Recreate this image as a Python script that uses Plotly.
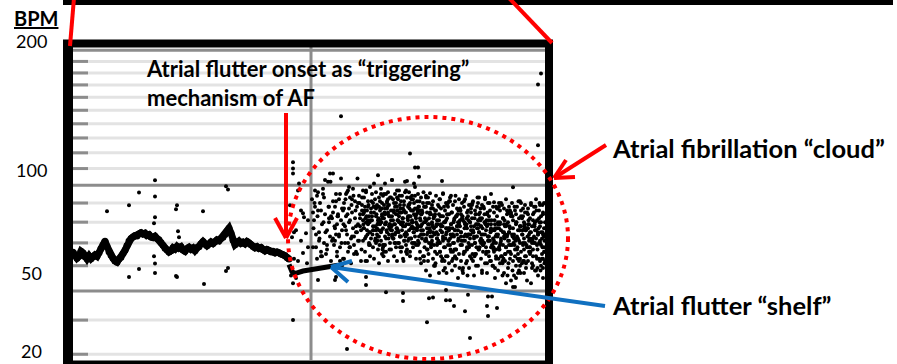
import plotly.graph_objects as go

# ---------------- data (time in minutes from start of strip, heart rate in BPM) ----------------
sinus_time = [0, 2, 4, 6, 8, 10, 12, 14, 16, 18, 20, 22, 24, 26, 28, 30, 32, 34, 36, 38,
              40, 42, 44, 46, 48, 50, 52, 54, 56, 58, 60, 62, 64, 66, 68, 70, 72, 74, 76, 78,
              80, 82, 84, 86, 88, 90, 92, 94, 96, 98, 100, 102, 104, 106, 108, 110, 112, 114, 116, 118,
              120, 122, 124, 126, 128, 130, 132, 134, 136, 138, 140, 142, 144, 146, 148, 150, 152, 154, 156, 158,
              160, 162, 164, 166, 168, 170, 172, 174, 176, 178, 180, 182, 184, 186, 188, 190, 192, 194, 196, 198,
              200, 202, 204, 206, 208, 210, 212, 214, 216]
sinus_bpm = [65.8, 64.5, 63.2, 64.0, 66.2, 65.5, 63.8, 62.9, 64.2, 63.0, 63.8, 64.6, 64.0, 65.5, 67.5, 69.0, 70.8, 68.5, 66.0, 64.5,
             63.2, 62.0, 61.5, 62.8, 63.6, 65.2, 66.7, 68.8, 70.9, 72.0, 72.8, 73.5, 73.2, 74.2, 74.8, 74.2, 74.6, 73.5, 73.9, 72.8,
             72.5, 73.1, 72.0, 71.5, 70.2, 68.9, 67.6, 66.8, 65.9, 66.5, 67.8, 67.2, 68.4, 67.6, 68.2, 66.8, 66.2, 67.4, 68.0, 67.1,
             67.7, 66.5, 67.9, 68.3, 69.6, 70.6, 69.4, 68.7, 69.5, 70.4, 69.7, 70.5, 71.4, 71.0, 72.1, 72.6, 74.0, 75.5, 77.0, 74.6,
             71.2, 69.2, 70.0, 70.8, 69.8, 70.3, 69.6, 70.6, 70.0, 69.2, 68.4, 67.8, 68.3, 67.5, 67.9, 66.9, 66.4, 67.0, 66.6, 65.9,
             66.2, 65.5, 65.9, 65.6, 65.0, 64.7, 64.3, 63.5, 62.8]

sinus_outlier_time = [82, 66, 82, 56, 34, 104, 103, 82, 81, 105, 106, 81, 82, 66, 82, 56, 104, 103,
                      130, 131, 153, 155, 155, 153]
sinus_outlier_bpm = [102.9, 95.9, 93.6, 88.8, 85.6, 88.8, 86.7, 82.5, 79.5, 75.5, 72.7, 64.0, 60.9, 58.6, 57.0, 55.4, 55.4, 55.8,
                     85.6, 52.7, 99.4, 97.6, 59.0, 57.8]

onset_time = [220, 220, 220, 226, 225, 228, 231, 235, 223, 233, 228, 235, 230, 221, 234, 225, 218, 223, 220, 217,
              230, 221, 219, 220]
onset_bpm = [114, 110, 107, 101, 97, 86, 82.5, 81, 76, 74.6, 71, 68, 65.5, 63, 61, 62, 56, 55, 53, 88.8,
             84.5, 75, 72.7, 40]

shelf_time = [216, 219, 222, 226, 230, 236, 242, 248, 254, 260, 265]
shelf_bpm = [60.5, 57.5, 56.8, 57.4, 57.8, 58.2, 58.6, 59.0, 59.4, 59.8, 60.2]

af_time = [
    239, 240, 241, 242, 243, 244, 245, 246, 247, 248, 249, 250, 251, 252, 253, 254, 255, 256, 257, 258,
    259, 260, 261, 262, 240, 244, 248, 252, 256, 260, 242, 246, 250, 254, 258,
    262, 262, 263, 264, 264, 265, 266, 266, 267, 268, 268, 269, 270, 270, 271, 272, 272, 273, 274, 274,
    275, 276, 276, 277, 278, 278, 279, 280, 280, 281, 282, 282, 283, 284, 284, 285, 286, 286, 287, 288,
    288, 289, 290, 290, 263, 267, 271, 275, 279, 283, 287, 265, 269, 273, 277, 281, 285, 289, 276, 284,
    290, 290, 291, 291, 292, 292, 293, 293, 293, 294, 294, 295, 295, 296, 296, 297, 297, 297, 298, 298,
    299, 299, 300, 300, 300, 301, 301, 302, 302, 303, 303, 303, 304, 304, 305, 305, 306, 306, 306, 307,
    307, 308, 308, 309, 309, 309, 310, 310, 311, 311, 312, 312, 312, 313, 313, 314, 314, 315, 315, 315,
    316, 316, 317, 317, 318, 318, 318, 319, 319, 320, 320, 321, 321, 321, 322, 322, 323, 323, 324, 324,
    324, 325, 325, 326, 326, 327, 327, 327, 328, 328, 329, 329, 330, 330, 330, 331, 331, 332, 332, 333,
    333, 333, 334, 334, 335, 335, 336, 336, 336, 337, 337, 338, 338, 339, 339, 339, 340, 340, 341, 341,
    342, 342, 342, 343, 343, 344, 344, 345, 345, 345, 346, 346, 347, 347, 348, 348, 348, 349, 349, 350,
    350, 351, 351, 352, 352, 353, 353, 354, 354, 354, 355, 355, 356, 356, 357, 357, 357, 358, 358, 359,
    359, 360, 360, 361, 361, 361, 362, 362, 363, 363, 364, 364, 364, 365, 365, 366, 366, 367, 367, 367,
    368, 368, 369, 369, 370, 370, 370, 371, 371, 372, 372, 373, 373, 373, 374, 374, 375, 375, 376, 376,
    376, 377, 377, 378, 378, 379, 379, 379, 380, 380, 381, 381, 382, 382, 382, 383, 383, 384, 384, 385,
    385, 385, 386, 386, 387, 387, 388, 388, 388, 389, 389, 390, 390, 391, 391, 391, 392, 392, 393, 393,
    394, 394, 394, 395, 395, 396, 396, 397, 397, 397, 398, 398, 399, 399, 400, 400, 400, 401, 401, 402,
    402, 403, 403, 403, 404, 404, 405, 405, 406, 406, 406, 407, 407, 408, 408, 409, 409, 409, 410, 410,
    411, 411, 412, 412, 412, 413, 413, 414, 414, 415, 415, 415, 416, 416, 417, 417, 418, 418, 418, 419,
    420, 420, 421, 421, 422, 422, 423, 423, 423, 424, 424, 425, 425, 426, 426, 427, 427, 427, 428, 428,
    429, 429, 430, 430, 431, 431, 431, 432, 432, 433, 433, 434, 434, 435, 435, 435, 436, 436, 437, 437,
    438, 438, 439, 439, 439, 440, 440, 441, 441, 442, 442, 443, 443, 443, 444, 444, 445, 445, 446, 446,
    447, 447, 447, 448, 448, 449, 449, 450, 450, 451, 451, 451, 452, 452, 453, 453, 454, 454, 455, 455,
    455, 456, 456, 457, 457, 458, 458, 459, 459, 459, 460, 460, 461, 461, 462, 462, 463, 463, 463, 464,
    464, 465, 465, 466, 466, 467, 467, 467, 468, 468, 469, 469, 470, 470, 471, 471, 471, 472, 472, 472]
af_bpm = [
    92, 68, 81, 97, 74, 63, 86, 71, 90, 66, 79, 95, 70, 84, 65, 76, 102, 88, 73, 62,
    82, 91, 69, 77, 85, 94, 64, 103, 80, 72, 88, 75, 98, 67, 83,
    88, 71, 95, 79, 64, 84, 92, 73, 68, 81, 104, 76, 86, 63, 90, 78, 70, 83, 96, 74,
    66, 87, 80, 93, 72, 61, 85, 77, 98, 69, 82, 91, 75, 65, 88, 79, 94, 71, 84, 62,
    76, 89, 81, 97, 74, 62, 87, 70, 92, 66, 78, 83, 60, 95, 68, 73, 90, 86, 99, 75,
    84, 71, 93, 77, 66, 88, 80, 97, 73, 62, 86, 79, 91, 69, 83, 75, 99, 64, 87, 72,
    81, 95, 68, 90, 76, 85, 63, 92, 78, 70, 96, 83, 74, 88, 67, 81, 93, 76, 61, 86,
    79, 98, 71, 84, 65, 90, 77, 94, 82, 69, 87, 73, 101, 80, 66, 91, 75, 85, 62, 96,
    78, 89, 70, 83, 93, 67, 81, 76, 103, 72, 86, 64, 90, 79, 95, 74, 84, 68, 88, 77,
    62, 92, 81, 70, 97, 85, 73, 89, 66, 80, 94, 76, 87, 63, 82, 91, 71, 78, 96, 69,
    85, 75, 93, 67, 83, 88, 72, 96, 79, 64, 90, 77, 86, 70, 94, 81, 68, 92, 75, 84,
    99, 73, 87, 63, 80, 91, 76, 85, 69, 95, 78, 88, 66, 82, 93, 74, 61, 86, 79, 90,
    76, 64, 88, 71, 82, 58, 93, 74, 67, 85, 79, 62, 90, 70, 84, 75, 56, 87, 68, 80,
    73, 91, 63, 83, 77, 69, 86, 60, 78, 94, 72, 81, 65, 89, 74, 57, 84, 70, 92, 66,
    79, 87, 62, 75, 83, 71, 95, 68, 80, 59, 86, 74, 90, 64, 77, 82, 69, 88, 61, 76,
    84, 72, 93, 66, 79, 58, 85, 73, 89, 63, 81, 70, 76, 91, 60, 83, 67, 87, 74, 55,
    80, 71, 92, 65, 78, 86, 62, 75, 84, 69, 90, 57, 81, 73, 88, 66, 79, 71, 94, 61,
    77, 85, 68, 74, 83, 59, 89, 72, 80, 64, 76, 87, 69, 82, 62, 91, 75, 78, 56, 86,
    70, 84, 65, 79, 73, 88, 60, 81, 67, 93, 75, 71, 85, 63, 78, 89, 58, 82, 74, 66,
    87, 70, 80, 61, 92, 76, 68, 84, 57, 79, 73, 90, 64, 81, 71, 86, 62, 77, 95, 69,
    72, 60, 85, 66, 79, 55, 88, 70, 63, 77, 83, 58, 74, 90, 67, 80, 61, 86, 71, 76,
    64, 89, 69, 82, 57, 75, 87, 62, 78, 92, 68, 73, 84, 59, 80, 66, 71, 88, 63, 77,
    85, 54, 74, 69, 90, 62, 81, 72, 56, 86, 67, 79, 60, 84, 73, 88, 65, 76, 58, 82,
    70, 91, 63, 78, 86, 61, 74, 69, 83, 57, 80, 72, 89, 64, 76, 59, 85, 68, 79, 62,
    87, 71, 66, 82, 75, 53, 90, 70, 61, 78, 84, 67, 73, 88, 58, 80, 64, 76, 92, 69,
    81, 56, 74, 86, 63, 78, 70, 89, 60, 83, 72, 65, 85, 59, 77, 68, 90, 62, 80, 74]

# second pass of beats read between the first-pass columns
af_time_b = [
    240.5, 241.5, 243, 244.5, 245, 246.5, 248, 249, 250.5, 251, 252.5, 254, 255.5, 256, 257.5, 259, 260, 261.5, 263, 264,
    264.5, 266, 267, 268.5, 269, 270.5, 271, 272.5, 273, 274.5, 275, 276.5, 277, 278.5, 279, 280.5, 281, 282.5, 283, 284.5,
    285, 286.5, 287, 288.5, 289, 290.5, 291, 292.5, 293, 294.5, 295, 296.5, 297, 298.5, 299, 300.5, 301, 302.5, 303, 304.5,
    305.5, 306.5, 307, 308.5, 309, 310.5, 311, 312.5, 313, 314.5, 315, 316.5, 317, 318.5, 319, 320.5, 321, 322.5, 323, 324.5,
    325, 326.5, 327, 328.5, 329, 330.5, 331, 332.5, 333, 334.5, 335, 336.5, 337, 338.5, 339, 340.5, 341, 342.5, 343, 344.5,
    345, 346.5, 347, 348.5, 349, 350.5, 351, 352.5, 353, 354.5, 355, 356.5, 357, 358.5, 359, 360.5, 305, 308, 311, 314,
    317, 320, 323, 326, 329, 332, 335, 338, 341, 344, 347, 350, 353, 356, 359, 306, 309, 312, 315, 318,
    321, 324, 327, 330, 333, 336, 339, 342, 345, 348, 351, 354, 357, 360, 307, 310, 313, 316, 319, 322,
    325, 328, 331, 334, 337, 340, 343, 346, 349, 352, 355, 358, 304, 309.5, 316.5, 324, 331.5, 339.5, 346, 353.5,
    361.5, 362.5, 363, 364.5, 365, 366.5, 367, 368.5, 369, 370.5, 371, 372.5, 373, 374.5, 375, 376.5, 377, 378.5, 379, 380.5,
    381, 382.5, 383, 384.5, 385, 386.5, 387, 388.5, 389, 390.5, 391, 392.5, 393, 394.5, 395, 396.5, 397, 398.5, 399, 400.5,
    401, 402.5, 403, 404.5, 405, 406.5, 407, 408.5, 409, 410.5, 411, 412.5, 413, 414.5, 415, 416.5, 417, 418.5, 419, 420.5,
    362, 365.5, 368, 371.5, 374, 377.5, 380, 383.5, 386, 389.5, 392, 395.5, 398, 401.5, 404, 407.5, 410, 413.5, 416, 419.5,
    363.5, 366, 369.5, 372, 375.5, 378, 381.5, 384, 387.5, 390, 393.5, 396, 399.5, 402, 405.5, 408, 411.5, 414, 417.5, 420,
    364, 367.5, 370, 373.5, 376, 379.5, 382, 385.5, 388, 391.5, 394, 397.5, 400, 403.5, 406, 409.5, 412, 415.5, 418, 361,
    420.5, 421.5, 422, 423.5, 424, 425.5, 426, 427.5, 428, 429.5, 430, 431.5, 432, 433.5, 434, 435.5, 436, 437.5, 438, 439.5,
    440, 441.5, 442, 443.5, 444, 445.5, 446, 447.5, 448, 449.5, 450, 451.5, 452, 453.5, 454, 455.5, 456, 457.5, 458, 459.5,
    460, 461.5, 462, 463.5, 464, 465.5, 466, 467.5, 468, 469.5, 470, 471.5, 421, 424.5, 428, 431, 434.5, 438, 441, 444.5,
    448, 451, 454.5, 458, 461, 464.5, 468, 471, 422.5, 426, 429.5, 433, 436, 439.5, 443, 446.5, 450, 453, 456.5, 460,
    463, 466.5, 470, 423, 427, 430.5, 435, 440.5, 445, 449, 452.5, 457, 462.5, 467, 471, 425, 432.5, 437, 442.5, 447,
    451.5, 455, 459, 465, 469.5, 472, 433, 447, 461, 469]
af_bpm_b = [
    77, 90, 68, 83, 96, 72, 86, 64, 80, 93, 75, 69, 88, 82, 102, 71, 85, 78, 91, 66,
    83, 74, 95, 70, 87, 79, 63, 92, 76, 84, 97, 68, 81, 89, 73, 94, 65, 86, 78, 104,
    71, 90, 82, 67, 93, 77, 85, 62, 96, 74, 88, 80, 69, 91, 83, 76, 101, 72, 87, 79,
    82, 69, 91, 76, 87, 64, 95, 79, 72, 88, 84, 67, 93, 78, 103, 74, 86, 70, 90, 81,
    76, 94, 68, 85, 79, 62, 89, 73, 97, 82, 71, 87, 66, 92, 80, 75, 101, 83, 69, 86,
    78, 91, 63, 84, 74, 96, 80, 71, 88, 67, 93, 77, 85, 70, 89, 82, 73, 95, 66, 87,
    79, 92, 75, 83, 68, 102, 81, 72, 90, 77, 86, 64, 94, 79, 71, 88, 83, 69, 92, 76,
    85, 97, 73, 80, 66, 89, 78, 94, 71, 84, 62, 90, 76, 87, 81, 68, 95, 74, 83, 79,
    70, 91, 86, 65, 93, 77, 82, 105, 72, 88, 75, 84, 89, 67, 79, 93, 74, 86, 70, 81,
    74, 61, 86, 70, 79, 92, 66, 83, 75, 58, 88, 72, 81, 64, 90, 77, 69, 85, 62, 80,
    73, 94, 67, 84, 76, 59, 87, 71, 82, 65, 91, 74, 78, 56, 86, 69, 80, 63, 89, 75,
    72, 84, 60, 93, 77, 68, 82, 74, 57, 88, 70, 79, 65, 85, 73, 90, 62, 81, 76, 67,
    84, 71, 78, 62, 89, 74, 66, 83, 79, 58, 92, 70, 85, 64, 77, 87, 69, 81, 73, 60,
    75, 88, 63, 80, 71, 94, 67, 78, 86, 59, 82, 74, 90, 65, 79, 70, 84, 61, 76, 88,
    69, 83, 72, 57, 91, 77, 64, 86, 73, 80, 62, 89, 75, 68, 84, 71, 93, 66, 79, 60,
    68, 81, 59, 74, 87, 63, 77, 70, 90, 56, 82, 72, 65, 79, 86, 61, 75, 69, 84, 58,
    73, 88, 64, 80, 67, 91, 71, 57, 83, 76, 62, 78, 85, 69, 54, 81, 74, 66, 89, 72,
    60, 79, 70, 86, 63, 77, 82, 58, 75, 68, 84, 61, 71, 87, 64, 79, 56, 83, 74, 68,
    90, 62, 77, 71, 85, 59, 80, 66, 73, 88, 61, 78, 69, 83, 55, 76, 87, 64, 72, 81,
    58, 90, 74, 67, 79, 63, 85, 70, 57, 82, 76, 68, 88, 62, 73, 80, 65, 86, 71, 60,
    77, 84, 59, 75, 89, 66, 53, 78, 70, 63]

# third pass: the dense core of the AF cloud
af_time_c = [
    290.5, 291.5, 292, 293.5, 294, 295.5, 296, 297.5, 298, 299.5, 300, 301.5, 302, 303.5, 304, 305.5, 306, 307.5, 308, 309.5,
    310, 311.5, 312, 313.5, 314, 315.5, 316, 317.5, 318, 319.5, 320, 321.5, 322, 323.5, 324, 325.5, 326, 327.5, 328, 329.5,
    330, 331.5, 332, 333.5, 334, 335.5, 336, 337.5, 338, 339.5, 340, 341.5, 342, 343.5, 344, 345.5, 346, 347.5, 348, 349.5,
    292.5, 296.5, 300.5, 304.5, 308.5, 312, 316.5, 320.5, 324.5, 328, 332.5, 336, 340.5, 344, 348, 295, 303, 311, 319, 327,
    350.5, 351.5, 352, 353.5, 354, 355.5, 356, 357.5, 358, 359.5, 360, 361.5, 362, 363.5, 364, 365.5, 366, 367.5, 368, 369.5,
    370, 371.5, 372, 373.5, 374, 375.5, 376, 377.5, 378, 379.5, 380, 381.5, 382, 383.5, 384, 385.5, 386, 387.5, 388, 389.5,
    390, 391.5, 392, 393.5, 394, 395.5, 396, 397.5, 398, 399.5, 400, 401.5, 402, 403.5, 404, 405.5, 406, 407.5, 408, 409.5,
    410, 411.5, 412, 413.5, 414, 415.5, 416, 417.5, 418, 419.5, 353, 359, 366, 373, 380, 387, 394, 401, 408, 415,
    420.5, 421.5, 423, 424.5, 425, 426.5, 428, 429.5, 430, 431.5, 433, 434.5, 435, 436.5, 438, 439.5, 440, 441.5, 443, 444.5,
    445, 446.5, 448, 449.5, 450, 451.5, 453, 454.5, 455, 456.5, 458, 459.5, 460, 461.5, 463, 464.5, 465, 466.5, 468, 469.5,
    470, 471.5, 422, 427, 432, 437, 442, 447, 452, 457, 462, 467, 471, 426, 436, 446, 456, 466, 431, 451]
af_bpm_c = [
    79, 86, 72, 83, 76, 89, 70, 81, 85, 74, 78, 88, 71, 84, 77, 80, 73, 87, 75, 82,
    69, 85, 79, 76, 90, 72, 83, 78, 86, 74, 81, 70, 88, 77, 84, 75, 80, 87, 73, 82,
    78, 71, 85, 79, 74, 89, 76, 83, 72, 80, 86, 77, 70, 84, 79, 88, 73, 81, 76, 85,
    82, 75, 88, 71, 80, 84, 77, 72, 86, 79, 74, 83, 70, 87, 78, 81, 76, 89, 73, 85,
    74, 68, 80, 71, 77, 65, 82, 73, 69, 78, 75, 83, 66, 79, 72, 70, 81, 76, 64, 78,
    73, 80, 68, 75, 84, 71, 77, 67, 79, 74, 70, 82, 76, 63, 78, 72, 80, 69, 75, 83,
    71, 77, 66, 79, 73, 81, 68, 74, 78, 65, 76, 82, 70, 73, 79, 67, 75, 81, 72, 77,
    69, 80, 74, 66, 78, 71, 83, 75, 68, 76, 72, 79, 70, 77, 74, 81, 67, 73, 78, 71,
    70, 76, 64, 73, 79, 67, 72, 62, 75, 81, 68, 74, 71, 78, 65, 73, 77, 69, 80, 63,
    72, 76, 66, 74, 70, 79, 61, 73, 77, 68, 75, 71, 64, 78, 72, 67, 74, 80, 69, 75,
    63, 71, 77, 69, 74, 66, 72, 78, 70, 65, 76, 71, 73, 68, 75, 62, 79, 70, 73, 67]

af_outlier_time = [268, 337, 342, 345, 305, 257, 260, 334, 369, 465, 440, 468, 465, 357, 370, 377, 421, 405,
                   313, 330, 330, 356, 360, 373, 373, 377, 381, 392, 397, 354, 274, 414, 424, 415, 419, 440,
                   395, 415, 442, 470, 293, 245, 263, 293, 262]
af_outlier_bpm = [145.5, 119.6, 110.7, 110.7, 105.9, 107, 107, 102.5, 102.5, 125, 98.8, 179.6, 170.4, 95.4, 95.4, 91, 90.4, 90,
                  49.6, 49.3, 46.4, 47.4, 47.7, 50.4, 46.7, 46.7, 44.7, 42.9, 34.5, 39.3, 31.4, 44.7, 44, 41.3, 48, 51.5,
                  48.7, 48, 51.5, 55, 52.3, 54.2, 55.4, 55.4, 54.2]

af_onset_time = 238
minor_grid_bpm = [190, 180, 170, 160, 150, 140, 130, 120, 110, 90, 80, 70, 60, 40, 30]
major_grid_bpm = [200, 100, 50]
tick_labels = ["200", "100", "50", "20"]
time_range = [0, 472]
bpm_range = [28.5, 203]

# Holter trend display scale (compressed power scale on BPM)
POWER = 0.35


def bpm_scale(values):
    if isinstance(values, (list, tuple)):
        return [v ** POWER for v in values]
    return values ** POWER


# ---------------- layout geometry (pixels of the 897x364 canvas) ----------------
W, H = 897, 364
PL, PR, PT, PB = 73, 545, 47, 360


def px_x(px):
    return (px - PL) / (PR - PL)


def px_y(py):
    return (PB - py) / (PB - PT)


FONT = "Lato, 'Open Sans', sans-serif"
RED = "#FF0000"
BLUE = "#1070C0"
GRID_LIGHT = "#E3E3E3"
GRID_DARK = "#8C8C8C"

fig = go.Figure()

fig.add_trace(go.Scatter(x=sinus_time, y=bpm_scale(sinus_bpm), mode="lines+markers",
                         line=dict(color="black", width=7), marker=dict(color="black", size=7),
                         hoverinfo="skip"))
fig.add_trace(go.Scatter(x=shelf_time, y=bpm_scale(shelf_bpm), mode="lines",
                         line=dict(color="black", width=5), hoverinfo="skip"))
dot = dict(color="black", size=4, line=dict(width=0))
for tx, by in [(sinus_outlier_time, sinus_outlier_bpm), (onset_time, onset_bpm),
               (af_time, af_bpm), (af_time_b, af_bpm_b), (af_time_c, af_bpm_c),
               (af_outlier_time, af_outlier_bpm)]:
    fig.add_trace(go.Scatter(x=tx, y=bpm_scale(by), mode="markers", marker=dot, hoverinfo="skip"))

shapes = []
# grid lines
for b in minor_grid_bpm:
    shapes.append(dict(type="line", xref="paper", yref="y", x0=0, x1=1, y0=bpm_scale(b), y1=bpm_scale(b),
                       line=dict(color=GRID_LIGHT, width=3), layer="below"))
    shapes.append(dict(type="line", xref="paper", yref="y", x0=0, x1=px_x(88), y0=bpm_scale(b), y1=bpm_scale(b),
                       line=dict(color=GRID_DARK, width=3), layer="below"))
for b in major_grid_bpm:
    shapes.append(dict(type="line", xref="paper", yref="y", x0=0, x1=1, y0=bpm_scale(b), y1=bpm_scale(b),
                       line=dict(color=GRID_DARK, width=3), layer="below"))
shapes.append(dict(type="line", xref="x", yref="paper", x0=af_onset_time, x1=af_onset_time, y0=0, y1=1,
                   line=dict(color=GRID_DARK, width=3), layer="below"))

# top panel edge and zoom lines
shapes.append(dict(type="rect", xref="paper", yref="paper", x0=px_x(63), x1=px_x(893), y0=px_y(5), y1=px_y(-2),
                   fillcolor="black", line=dict(width=0)))
# frame
shapes.append(dict(type="line", xref="paper", yref="paper", x0=px_x(68), x1=px_x(68), y0=px_y(366), y1=px_y(40),
                   line=dict(color="black", width=10)))
shapes.append(dict(type="line", xref="paper", yref="paper", x0=px_x(63), x1=px_x(553), y0=px_y(43.5), y1=px_y(43.5),
                   line=dict(color="black", width=8)))
shapes.append(dict(type="line", xref="paper", yref="paper", x0=px_x(549), x1=px_x(549), y0=px_y(366), y1=px_y(40),
                   line=dict(color="black", width=8)))
shapes.append(dict(type="line", xref="paper", yref="paper", x0=px_x(63), x1=px_x(553), y0=px_y(363.5), y1=px_y(363.5),
                   line=dict(color="black", width=6)))
shapes.append(dict(type="line", xref="paper", yref="paper", x0=px_x(74), x1=px_x(70), y0=px_y(-2), y1=px_y(46),
                   line=dict(color=RED, width=4)))
shapes.append(dict(type="line", xref="paper", yref="paper", x0=px_x(509), x1=px_x(552), y0=px_y(-2), y1=px_y(43),
                   line=dict(color=RED, width=4)))

# dotted ellipse around the AF cloud
shapes.append(dict(type="circle", xref="paper", yref="paper", x0=px_x(288), x1=px_x(568), y0=px_y(359), y1=px_y(117),
                   line=dict(color=RED, width=4, dash="4px,5px")))


def seg(x0, y0, x1, y1, color):
    return dict(type="line", xref="paper", yref="paper", x0=px_x(x0), x1=px_x(x1), y0=px_y(y0), y1=px_y(y1),
                line=dict(color=color, width=4))


# onset arrow
shapes += [seg(286, 113, 286, 238, RED), seg(275, 218, 286, 238, RED), seg(297, 218, 286, 238, RED)]
# cloud arrow
shapes += [seg(606, 145, 554, 178, RED), seg(566, 160, 554, 178, RED), seg(575, 177, 554, 178, RED)]
# shelf arrow
shapes += [seg(605, 306, 331, 267, BLUE), seg(352, 261, 331, 267, BLUE), seg(348, 282, 331, 267, BLUE)]

annotations = [
    dict(text="<b><u>BPM</u></b>", x=px_x(36), y=px_y(18), font=dict(size=20)),
]
for label, ly in zip(tick_labels, [41, 170, 273, 351]):
    annotations.append(dict(text=label, x=px_x(31), y=px_y(ly), font=dict(size=18)))
annotations += [
    dict(text="<b>Atrial flutter onset as “triggering”<br>mechanism of AF</b>", x=px_x(144), y=px_y(83),
         xanchor="left", align="left", font=dict(size=22)),
    dict(text="<b>Atrial fibrillation “cloud”</b>", x=px_x(610), y=px_y(148), xanchor="left",
         font=dict(size=25.5)),
    dict(text="<b>Atrial flutter “shelf”</b>", x=px_x(610), y=px_y(305), xanchor="left",
         font=dict(size=25.5)),
]
for a in annotations:
    a.update(xref="paper", yref="paper", showarrow=False)
    a.setdefault("xanchor", "center")
    a.setdefault("yanchor", "middle")

fig.update_layout(
    width=W, height=H,
    margin=dict(l=PL, r=W - PR, t=PT, b=H - PB, pad=0),
    paper_bgcolor="white", plot_bgcolor="white",
    showlegend=False,
    font=dict(family=FONT, color="black"),
    xaxis=dict(range=time_range, showgrid=False, zeroline=False, showticklabels=False, ticks="", showline=False),
    yaxis=dict(range=bpm_scale(bpm_range), showgrid=False, zeroline=False, showticklabels=False, ticks="",
               showline=False),
    shapes=shapes,
    annotations=annotations,
)

fig.write_html("out.html", config={"displayModeBar": False},
               post_script="document.body.style.margin='0';document.body.style.overflow='hidden';")
